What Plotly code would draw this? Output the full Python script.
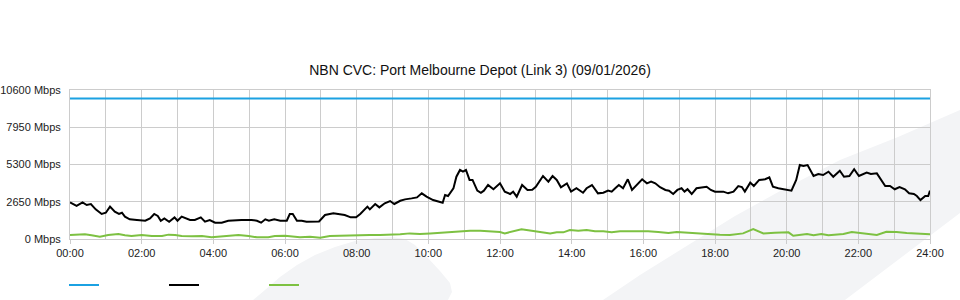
import plotly.graph_objects as go

# ---------------- data (minutes of day, Mbps) ----------------
capacity_min = [0, 1440]
capacity_val = [10000, 10000]

down_min = [0, 11, 21, 28, 35, 43, 53, 60, 67, 75, 82, 87, 92, 100, 112, 126, 134, 141, 147, 152,
            158, 166, 175, 180, 187, 194, 201, 209, 219, 226, 234, 243, 254, 265, 276, 287, 304, 313,
            320, 327, 333, 342, 352, 360, 363, 368, 373, 380, 388, 396, 407, 417, 427, 435, 441, 449,
            460, 470, 479, 486, 498, 502, 511, 518, 527, 536, 543, 553, 561, 572, 581, 589, 597, 608,
            617, 624, 628, 633, 642, 647, 653, 658, 663, 669, 674, 682, 688, 693, 700, 709, 720, 728,
            737, 742, 748, 757, 766, 774, 780, 785, 792, 801, 808, 815, 822, 832, 839, 848, 859, 865,
            874, 884, 893, 901, 907, 913, 919, 926, 934, 941, 951, 958, 966, 973, 980, 988, 997, 1003,
            1010, 1017, 1024, 1029, 1034, 1041, 1049, 1058, 1066, 1073, 1080, 1094, 1102, 1111, 1119,
            1125, 1130, 1139, 1145, 1154, 1164, 1171, 1177, 1186, 1197, 1208, 1216, 1222, 1228, 1235,
            1245, 1253, 1261, 1270, 1278, 1289, 1296, 1305, 1313, 1321, 1334, 1341, 1351, 1365, 1373,
            1381, 1389, 1398, 1405, 1413, 1418, 1424, 1432, 1437, 1440]
down_val = [2600, 2350, 2610, 2420, 2490, 2110, 1780, 1870, 2300, 1940, 1780, 1870, 1590, 1400, 1350,
            1300, 1470, 1780, 1640, 1300, 1470, 1230, 1540, 1300, 1590, 1470, 1350, 1350, 1540, 1230,
            1350, 1160, 1160, 1300, 1350, 1350, 1350, 1300, 1160, 1400, 1300, 1400, 1300, 1280, 1300,
            1780, 1780, 1300, 1300, 1230, 1230, 1250, 1710, 1780, 1830, 1780, 1710, 1540, 1540, 1780,
            2300, 2110, 2490, 2250, 2540, 2700, 2490, 2720, 2820, 2890, 2960, 3250, 3010, 2770, 2650,
            2580, 3130, 3060, 3600, 4430, 4910, 4790, 4910, 4200, 4200, 3440, 3290, 3440, 3840, 3540,
            3960, 3370, 3200, 3370, 3010, 3840, 3490, 3510, 3720, 4010, 4480, 4080, 4480, 4200, 3680,
            3960, 3370, 3610, 3290, 3610, 3840, 3250, 3290, 3440, 3370, 3610, 3840, 3610, 4250, 3490,
            3910, 4250, 3960, 4080, 3960, 3680, 3490, 3440, 3200, 3490, 3610, 3370, 3540, 3200, 3610,
            3680, 3720, 3490, 3370, 3370, 3250, 3370, 3770, 3700, 3370, 4010, 3770, 4200, 4250, 4390,
            3720, 3610, 3540, 3440, 4200, 5260, 5200, 5260, 4480, 4620, 4550, 4790, 4430, 4860, 4430,
            4480, 4960, 4480, 4720, 4620, 4670, 3770, 3770, 3540, 3700, 3540, 3250, 3200, 3060, 2770,
            3060, 3060, 3440]

up_min = [0, 14, 25, 36, 50, 64, 81, 92, 103, 120, 137, 154, 165, 176, 187, 204, 221, 237, 254, 271,
          282, 299, 313, 332, 343, 360, 368, 385, 402, 419, 435, 452, 469, 486, 502, 519, 536, 553,
          569, 586, 603, 620, 636, 653, 670, 687, 703, 720, 728, 740, 756, 773, 790, 804, 815, 826,
          837, 851, 865, 879, 893, 907, 921, 935, 952, 968, 985, 1002, 1016, 1033, 1052, 1069, 1080,
          1088, 1105, 1119, 1127, 1144, 1161, 1180, 1189, 1203, 1211, 1220, 1234, 1245, 1258, 1270,
          1281, 1295, 1309, 1320, 1331, 1351, 1367, 1384, 1401, 1418, 1440]
up_val = [285, 285, 330, 260, 165, 285, 355, 260, 210, 285, 210, 210, 310, 285, 210, 190, 210, 120,
          165, 235, 285, 210, 120, 120, 210, 235, 210, 120, 165, 95, 210, 235, 285, 310, 285, 285,
          285, 330, 400, 355, 400, 450, 500, 570, 590, 590, 570, 500, 400, 545, 690, 590, 500, 400,
          475, 475, 640, 590, 640, 545, 545, 475, 545, 545, 590, 545, 500, 425, 500, 450, 425, 330,
          330, 310, 285, 330, 400, 710, 400, 450, 450, 475, 235, 285, 355, 260, 355, 260, 310, 355,
          500, 450, 355, 285, 520, 500, 425, 400, 330, 310, 310]

y_ticks = [0, 2650, 5300, 7950, 10600]
x_tick_min = list(range(0, 1441, 120))
x_tick_text = ["%02d:00" % (m // 60) for m in x_tick_min]

# ---------------- layout geometry ----------------
W, H = 960, 300
ML, MR, MT, MB = 70, 30, 90, 61
PW, PH = W - ML - MR, H - MT - MB


def px(x, y):
    return (x - ML) / PW, (H - MB - y) / PH


def path_from(points):
    parts = []
    for i, (x, y) in enumerate(points):
        xp, yp = px(x, y)
        parts.append(("M" if i == 0 else "L") + "%.5f,%.5f" % (xp, yp))
    return " ".join(parts) + " Z"


swoosh1 = [(250, 305), (253, 300), (265, 290), (280, 277), (297, 265), (315, 255), (335, 247),
           (355, 241), (375, 238), (392, 237), (405, 239), (415, 245), (428, 258), (440, 271),
           (450, 283), (452, 292), (448, 300), (447, 305)]
swoosh2 = [(597, 305), (603, 300), (640, 275), (685, 247), (735, 216), (782, 190), (840, 160),
           (898, 137), (960, 110), (965, 108), (965, 215), (960, 213), (845, 300), (840, 305)]

fig = go.Figure()
fig.add_trace(go.Scatter(x=capacity_min, y=capacity_val, mode="lines", name=" ",
                         line=dict(color="#1ba1e2", width=2)))
fig.add_trace(go.Scatter(x=down_min, y=down_val, mode="lines", name=" ",
                         line=dict(color="#000000", width=2)))
fig.add_trace(go.Scatter(x=up_min, y=up_val, mode="lines", name=" ",
                         line=dict(color="#7dc142", width=2)))

grid = "#cccccc"
fig.update_layout(
    width=W, height=H,
    margin=dict(l=ML, r=MR, t=MT, b=MB, autoexpand=False),
    paper_bgcolor="white",
    plot_bgcolor="rgba(0,0,0,0)",
    font=dict(family="Liberation Sans, Arial, sans-serif", size=11, color="#222222"),
    title=dict(text="NBN CVC: Port Melbourne Depot (Link 3) (09/01/2026)",
               x=0.5, xref="container", xanchor="center",
               y=1 - 70 / H, yref="container", yanchor="middle",
               font=dict(size=14, color="#111111")),
    showlegend=True,
    legend=dict(orientation="h", x=(64 - ML) / PW, xanchor="left",
                y=px(0, 285)[1], yanchor="middle",
                entrywidth=55, entrywidthmode="pixels",
                bgcolor="rgba(0,0,0,0)", font=dict(size=11)),
    xaxis=dict(range=[0, 1440], tickmode="array", tickvals=x_tick_min, ticktext=x_tick_text,
               showgrid=True, gridcolor=grid, gridwidth=1,
               minor=dict(tickmode="linear", tick0=0, dtick=60, showgrid=True,
                          gridcolor=grid, gridwidth=1),
               showline=True, linecolor=grid, linewidth=1, mirror=True,
               ticks="outside", ticklen=4, tickcolor=grid, zeroline=False,
               fixedrange=True),
    yaxis=dict(range=[0, 10600], tickmode="array", tickvals=y_ticks,
               ticktext=["%d Mbps" % v for v in y_ticks],
               showgrid=True, gridcolor=grid, gridwidth=1,
               showline=True, linecolor=grid, linewidth=1, mirror=True,
               ticks="", ticklabelstandoff=6, zeroline=False, fixedrange=True),
    shapes=[
        dict(type="path", xref="paper", yref="paper", path=path_from(swoosh1),
             fillcolor="#f3f4f6", line=dict(width=0), layer="below"),
        dict(type="path", xref="paper", yref="paper", path=path_from(swoosh2),
             fillcolor="#f3f4f6", line=dict(width=0), layer="below"),
    ],
)

fig.write_html("out.html")
